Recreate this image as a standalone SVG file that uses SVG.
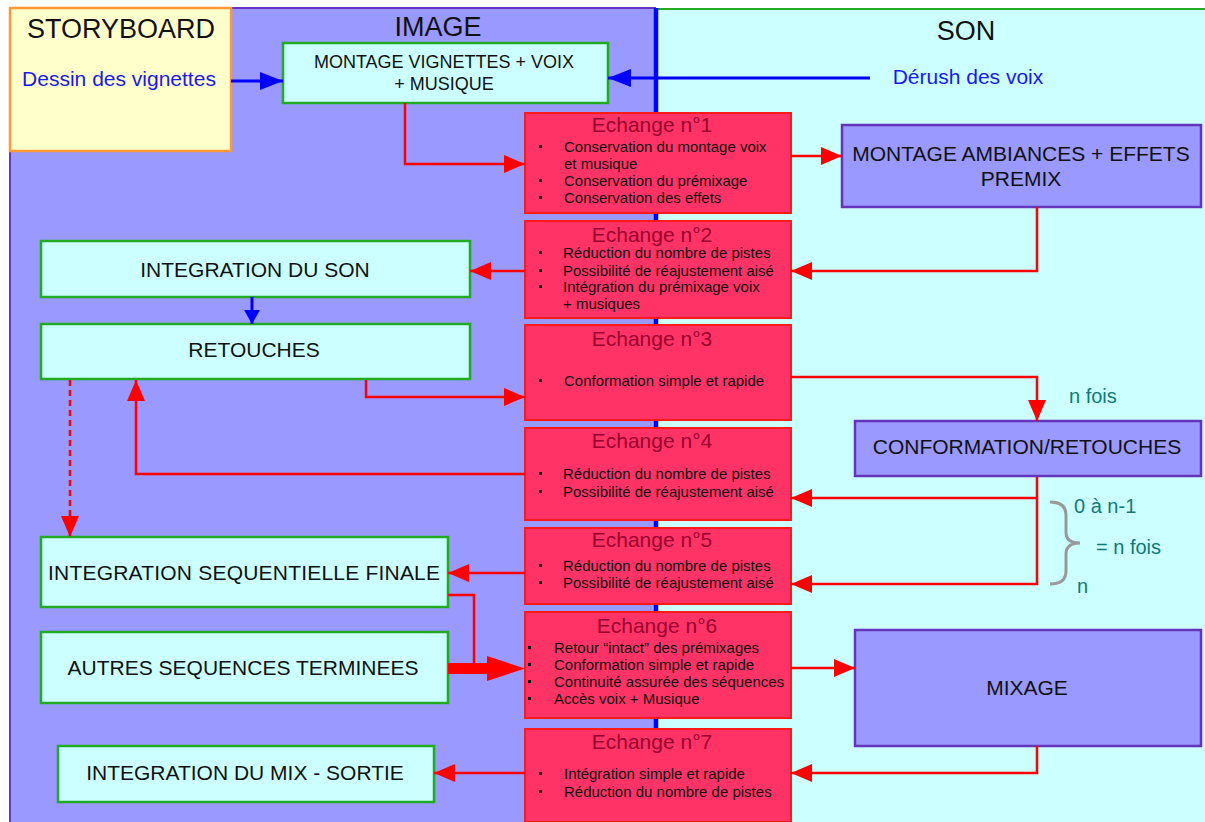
<svg xmlns="http://www.w3.org/2000/svg" width="1205" height="822" viewBox="0 0 1205 822">
<style>
text { font-family: "Liberation Sans", Arial, sans-serif; }
.hdr { font-size: 27px; fill: #111; text-anchor: middle; }
.lbl { font-size: 21px; fill: #111; text-anchor: middle; }
.mlbl { font-size: 18px; fill: #111; text-anchor: middle; }
.bluet { font-size: 21px; fill: #1a1aee; text-anchor: middle; }
.ex { fill: #ff3366; stroke: #ff1a1a; stroke-width: 2; }
.ext { font-size: 21px; fill: #99002e; text-anchor: middle; }
.bt { font-size: 15px; fill: #111; }
.bul { fill: #111; }
.gbox { fill: #ccffff; stroke: #22aa22; stroke-width: 2.5; }
.pbox { fill: #9999ff; stroke: #6633bb; stroke-width: 2.5; }
.red { stroke: #ff0000; stroke-width: 2.5; fill: none; }
.blue { stroke: #0000ff; stroke-width: 3; fill: none; }
.teal { font-size: 20px; fill: #117777; }
</style>
<defs>
<marker id="ar" markerUnits="userSpaceOnUse" markerWidth="22" markerHeight="18" refX="21" refY="9" orient="auto"><path d="M0,0 L21,9 L0,18 z" fill="#ff0000"/></marker>
<marker id="ab" markerUnits="userSpaceOnUse" markerWidth="24" markerHeight="18" refX="23" refY="9" orient="auto"><path d="M0,0 L23,9 L0,18 z" fill="#0000ff"/></marker>
<marker id="abs" markerUnits="userSpaceOnUse" markerWidth="15" markerHeight="16" refX="14" refY="8" orient="auto"><path d="M0,0 L14,8 L0,16 z" fill="#0000ff"/></marker>
</defs>
<rect x="0" y="0" width="1205" height="822" fill="#ffffff"/>
<g id="zones">
<rect x="10" y="8" width="645" height="816" fill="#9999ff" stroke="#6633cc" stroke-width="2"/>
<rect x="655" y="9" width="552" height="815" fill="#ccffff"/>
<line x1="655" y1="9" x2="1205" y2="9" stroke="#22aa22" stroke-width="2"/>
<line x1="656" y1="8" x2="656" y2="822" stroke="#0000ff" stroke-width="4.5"/>
<text class="hdr" x="438" y="36">IMAGE</text>
<text class="hdr" x="966" y="40">SON</text>
</g>
<g id="storyboard">
<rect x="10" y="8" width="221" height="143" fill="#ffffcc" stroke="#ff9933" stroke-width="2.5"/>
<text class="hdr" x="121" y="38">STORYBOARD</text>
<text class="bluet" x="119" y="86">Dessin des vignettes</text>
</g>
<g id="derush">
<text class="bluet" x="968" y="84">Dérush des voix</text>
</g>
<g id="montage">
<rect class="gbox" x="283" y="43" width="325" height="60"/>
<text class="mlbl" x="444" y="68">MONTAGE VIGNETTES + VOIX</text>
<text class="mlbl" x="444" y="90">+ MUSIQUE</text>
</g>
<g id="integ-son">
<rect class="gbox" x="41" y="241" width="429" height="56"/>
<text class="lbl" x="255" y="277">INTEGRATION DU SON</text>
</g>
<g id="retouches">
<rect class="gbox" x="41" y="324" width="429" height="55"/>
<text class="lbl" x="254" y="357">RETOUCHES</text>
</g>
<g id="integ-seq">
<rect class="gbox" x="41" y="537" width="407" height="70"/>
<text class="lbl" x="244" y="580" textLength="392" lengthAdjust="spacing">INTEGRATION SEQUENTIELLE FINALE</text>
</g>
<g id="autres">
<rect class="gbox" x="41" y="632" width="407" height="71"/>
<text class="lbl" x="243" y="675">AUTRES SEQUENCES TERMINEES</text>
</g>
<g id="integ-mix">
<rect class="gbox" x="58" y="746" width="376" height="56"/>
<text class="lbl" x="245" y="780">INTEGRATION DU MIX - SORTIE</text>
</g>
<g id="montage-amb">
<rect class="pbox" x="842" y="125" width="359" height="82"/>
<text class="lbl" x="1021" y="161">MONTAGE AMBIANCES + EFFETS</text>
<text class="lbl" x="1021" y="186">PREMIX</text>
</g>
<g id="conformation">
<rect class="pbox" x="855" y="421" width="346" height="55"/>
<text class="lbl" x="1027" y="454">CONFORMATION/RETOUCHES</text>
</g>
<g id="mixage">
<rect class="pbox" x="855" y="630" width="346" height="116"/>
<text class="lbl" x="1027" y="695">MIXAGE</text>
</g>
<g id="echange1">
<rect class="ex" x="525" y="113" width="266" height="100"/>
<text class="ext" x="652" y="132">Echange n°1</text>
<rect class="bul" x="539" y="145" width="3" height="3"/>
<text class="bt" x="564" y="152">Conservation du montage voix</text>
<text class="bt" x="564" y="169">et musique</text>
<rect class="bul" x="539" y="179" width="3" height="3"/>
<text class="bt" x="564" y="186">Conservation du prémixage</text>
<rect class="bul" x="539" y="196" width="3" height="3"/>
<text class="bt" x="564" y="203">Conservation des effets</text>
</g>
<g id="echange2">
<rect class="ex" x="525" y="221" width="266" height="97"/>
<text class="ext" x="652" y="242">Echange n°2</text>
<rect class="bul" x="539" y="251" width="3" height="3"/>
<text class="bt" x="563" y="258">Réduction du nombre de pistes</text>
<rect class="bul" x="539" y="269" width="3" height="3"/>
<text class="bt" x="563" y="276">Possibilité de réajustement aisé</text>
<rect class="bul" x="539" y="285" width="3" height="3"/>
<text class="bt" x="563" y="292">Intégration du prémixage voix</text>
<text class="bt" x="563" y="309">+ musiques</text>
</g>
<g id="echange3">
<rect class="ex" x="525" y="325" width="266" height="95"/>
<text class="ext" x="652" y="346">Echange n°3</text>
<rect class="bul" x="539" y="379" width="3" height="3"/>
<text class="bt" x="564" y="386">Conformation simple et rapide</text>
</g>
<g id="echange4">
<rect class="ex" x="525" y="428" width="266" height="92"/>
<text class="ext" x="652" y="448">Echange n°4</text>
<rect class="bul" x="539" y="472" width="3" height="3"/>
<text class="bt" x="563" y="479">Réduction du nombre de pistes</text>
<rect class="bul" x="539" y="490" width="3" height="3"/>
<text class="bt" x="563" y="497">Possibilité de réajustement aisé</text>
</g>
<g id="echange5">
<rect class="ex" x="525" y="528" width="266" height="76"/>
<text class="ext" x="652" y="547">Echange n°5</text>
<rect class="bul" x="539" y="564" width="3" height="3"/>
<text class="bt" x="563" y="571">Réduction du nombre de pistes</text>
<rect class="bul" x="539" y="581" width="3" height="3"/>
<text class="bt" x="563" y="588">Possibilité de réajustement aisé</text>
</g>
<g id="echange6">
<rect class="ex" x="525" y="612" width="266" height="106"/>
<text class="ext" x="657" y="633">Echange n°6</text>
<rect class="bul" x="528" y="646" width="3" height="3"/>
<text class="bt" x="554" y="653">Retour “intact” des prémixages</text>
<rect class="bul" x="528" y="663" width="3" height="3"/>
<text class="bt" x="554" y="670">Conformation simple et rapide</text>
<rect class="bul" x="528" y="680" width="3" height="3"/>
<text class="bt" x="554" y="687">Continuité assurée des séquences</text>
<rect class="bul" x="528" y="697" width="3" height="3"/>
<text class="bt" x="554" y="704">Accès voix + Musique</text>
</g>
<g id="echange7">
<rect class="ex" x="525" y="729" width="266" height="93"/>
<text class="ext" x="652" y="749">Echange n°7</text>
<rect class="bul" x="539" y="772" width="3" height="3"/>
<text class="bt" x="564" y="779">Intégration simple et rapide</text>
<rect class="bul" x="539" y="790" width="3" height="3"/>
<text class="bt" x="564" y="797">Réduction du nombre de pistes</text>
</g>
<g id="annotations">
<text class="teal" x="1069" y="403">n fois</text>
<path d="M1050,502 Q1066,502 1066,515 L1066,532 Q1066,543 1080,543 Q1066,543 1066,554 L1066,571 Q1066,584 1050,584" fill="none" stroke="#999999" stroke-width="3"/>
<text class="teal" x="1074" y="513">0 à n-1</text>
<text class="teal" x="1096" y="554">= n fois</text>
<text class="teal" x="1077" y="593">n</text>
</g>
<g id="connectors">
<path class="blue" d="M231,81 H283" marker-end="url(#ab)"/>
<path class="blue" d="M870,78 H608" marker-end="url(#ab)"/>
<path class="blue" d="M252,297 V324" stroke-width="2" marker-end="url(#abs)"/>
<path class="red" d="M405,103 V164 H525" marker-end="url(#ar)"/>
<path class="red" d="M791,156 H842" marker-end="url(#ar)"/>
<path class="red" d="M1037,207 V271 H791" marker-end="url(#ar)"/>
<path class="red" d="M525,271 H470" marker-end="url(#ar)"/>
<path class="red" d="M366,380 V397 H525" marker-end="url(#ar)"/>
<path class="red" d="M791,377 H1037 V421" marker-end="url(#ar)"/>
<path class="red" d="M1037,477 V584 H791" marker-end="url(#ar)"/>
<path class="red" d="M1037,498 H791" marker-end="url(#ar)"/>
<path class="red" d="M525,474 H136 V380" marker-end="url(#ar)"/>
<path class="red" d="M70,380 V537" stroke-dasharray="6 4" marker-end="url(#ar)"/>
<path class="red" d="M525,573 H448" marker-end="url(#ar)"/>
<path class="red" d="M448,595 H474 V664"/>
<path d="M448,663 H487 V656 L525,668.5 L487,681 V674 H448 Z" fill="#ff0000"/>
<path class="red" d="M791,668 H855" marker-end="url(#ar)"/>
<path class="red" d="M1037,746 V773 H791" marker-end="url(#ar)"/>
<path class="red" d="M525,773 H434" marker-end="url(#ar)"/>
</g>
</svg>
